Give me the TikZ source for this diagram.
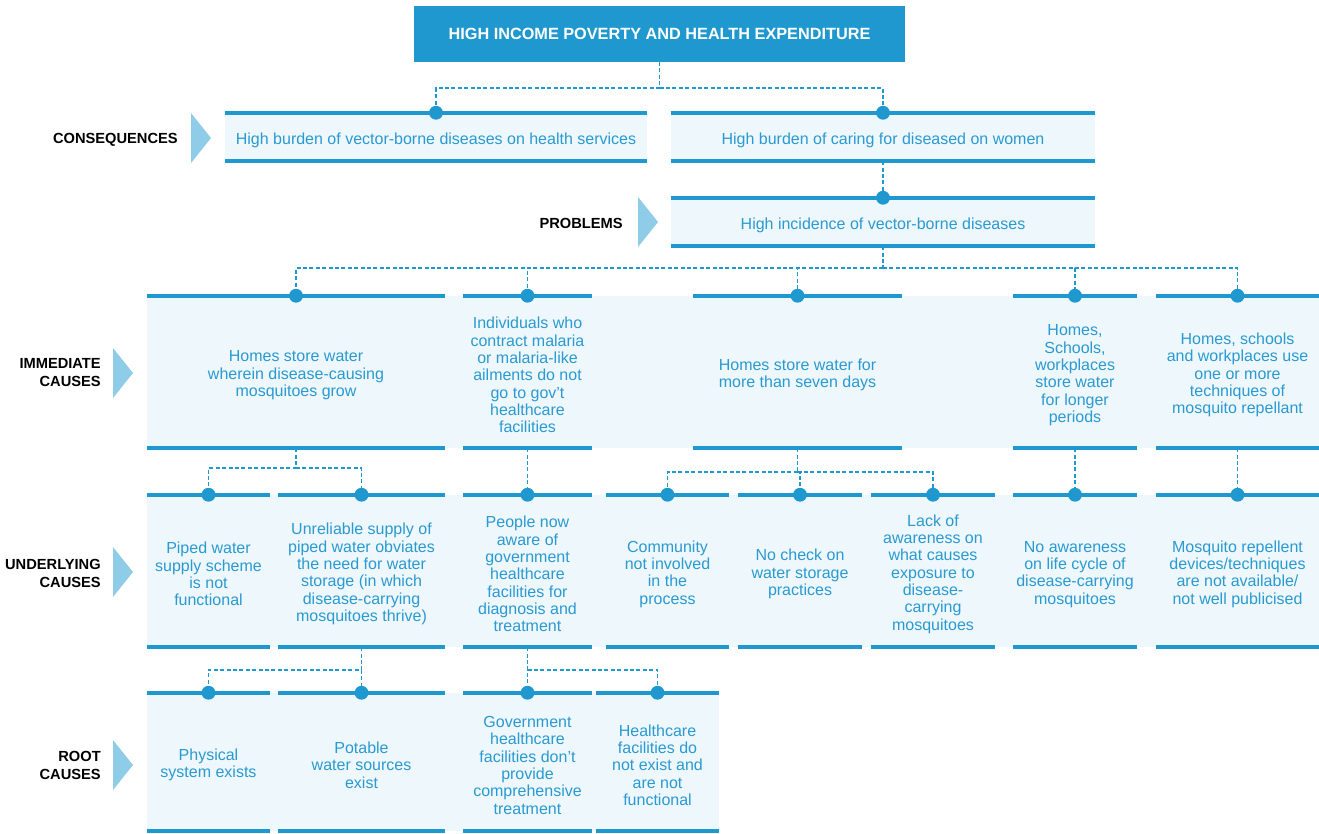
\documentclass[tikz,border=0pt]{standalone}
\usepackage{fontspec}
\setmainfont{Liberation Sans}
\usepackage{tikz}
\usetikzlibrary{positioning}

\definecolor{deepblue}{HTML}{1E98CF}
\definecolor{textblue}{HTML}{2A9AD2}
\definecolor{paleblue}{HTML}{EEF7FB}
\definecolor{arrowblue}{HTML}{8FCCE7}

\begin{document}
\begin{tikzpicture}[
    x=0.75pt, y=-0.75pt,
    every node/.style={inner sep=0pt},
    cell/.style={align=flush center, text=textblue, font=\fontsize{12}{13}\selectfont,
                 execute at begin node={\rule{0pt}{13.2pt}}},
    conrow/.style={cell, minimum height=36pt, fill=paleblue, text width=#1},
    immrow/.style={cell, minimum height=114pt, text width=#1},
    undrow/.style={cell, minimum height=114pt, text width=#1},
    rootrow/.style={cell, minimum height=103.5pt, text width=#1},
    level/.style={anchor=east, align=right, font=\bfseries\fontsize{11}{13.5}\selectfont},
    rule/.style={deepblue, line width=3pt},
    link/.style={deepblue, line width=1.3pt, dash pattern=on 3pt off 1.8pt},
  ]
  \useasboundingbox (0,0) rectangle (1319,833);

  % Bands behind the rows
  \fill[paleblue] (147,296) rectangle (1319,448);
  \fill[paleblue] (147,495) rectangle (1319,647);
  \fill[paleblue] (147,693) rectangle (719,831);

  % Level markers
  \fill[arrowblue] (191,113) -- (211,138) -- (191,163) -- cycle;
  \fill[arrowblue] (638,197) -- (658,222) -- (638,247) -- cycle;
  \fill[arrowblue] (113,348) -- (133,373) -- (113,398) -- cycle;
  \fill[arrowblue] (113,547) -- (133,572) -- (113,597) -- cycle;
  \fill[arrowblue] (113,740) -- (133,765) -- (113,790) -- cycle;

  \node[level] (lcons) at (178,139.5) {CONSEQUENCES};
  \node[level] (lprob) at (623,223)   {PROBLEMS};
  \node[level] (limm)  at (101,373)   {IMMEDIATE\\CAUSES};
  \node[level] (lund)  at (101,573)   {UNDERLYING\\CAUSES};
  \node[level] (lroot) at (101,765)   {ROOT\\CAUSES};

  % Title
  \node[fill=deepblue, text=white, minimum width=368.25pt, minimum height=42pt,
        font=\bfseries\fontsize{12.2}{14}\selectfont] (title) at (659.5,33.5)
        {HIGH INCOME POVERTY AND HEALTH EXPENDITURE};

  % Consequences and problem
  \node[conrow=316.5pt] (cons1) at (436,137) {High burden of vector-borne diseases on health services};
  \node[conrow=318pt]   (cons2) at (883,137) {High burden of caring for diseased on women};
  \node[conrow=318pt]   (prob)  at (883,222) {High incidence of vector-borne diseases};

  % Immediate causes
  \node[immrow=223.5pt]  (imm1) at (296,372)    {Homes store water\\wherein disease-causing\\mosquitoes grow};
  \node[immrow=96pt]     (imm2) at (527.5,372)  {Individuals who\\contract malaria\\or malaria-like\\ailments do not\\go to gov’t\\healthcare\\facilities};
  \node[immrow=156.75pt] (imm3) at (797.5,372)  {Homes store water for\\more than seven days};
  \node[immrow=93pt]     (imm4) at (1075,372)   {Homes,\\Schools,\\workplaces\\store water\\for longer\\periods};
  \node[immrow=122.25pt] (imm5) at (1237.5,372) {Homes, schools\\and workplaces use\\one or more\\techniques of\\mosquito repellant};

  % Underlying causes
  \node[undrow=92.25pt]  (und1) at (208.5,571)  {Piped water\\supply scheme\\is not\\functional};
  \node[undrow=125.25pt] (und2) at (361.5,571)  {Unreliable supply of\\piped water obviates\\the need for water\\storage (in which\\disease-carrying\\mosquitoes thrive)};
  \node[undrow=96pt]     (und3) at (527.5,571)  {People now\\aware of\\government\\healthcare\\facilities for\\diagnosis and\\treatment};
  \node[undrow=92.25pt]  (und4) at (667.5,571)  {Community\\not involved\\in the\\process};
  \node[undrow=93pt]     (und5) at (800,571)    {No check on\\water storage\\practices};
  \node[undrow=93pt]     (und6) at (933,571)    {Lack of\\awareness on\\what causes\\exposure to\\disease-\\carrying\\mosquitoes};
  \node[undrow=93pt]     (und7) at (1075,571)   {No awareness\\on life cycle of\\disease-carrying\\mosquitoes};
  \node[undrow=122.25pt] (und8) at (1237.5,571) {Mosquito repellent\\devices/techniques\\are not available/\\not well publicised};

  % Root causes
  \node[rootrow=92.25pt]  (root1) at (208.5,762) {Physical\\system exists};
  \node[rootrow=125.25pt] (root2) at (361.5,762) {Potable\\water sources\\exist};
  \node[rootrow=96pt]     (root3) at (527.5,762) {Government\\healthcare\\facilities don’t\\provide\\comprehensive\\treatment};
  \node[rootrow=92.25pt]  (root4) at (657.5,762) {Healthcare\\facilities do\\not exist and\\are not\\functional};

  % Top and bottom rules of every box
  \foreach \n in {cons1,cons2,prob,imm1,imm2,imm3,imm4,imm5,und1,und2,und3,und4,und5,und6,und7,und8,root1,root2,root3,root4}
    \draw[rule] (\n.north west) -- (\n.north east) (\n.south west) -- (\n.south east);

  % Dashed links
  \coordinate (j0) at (659.5,88);
  \coordinate (j1) at (883,268);
  \coordinate (j2) at (296,468);
  \coordinate (j3) at (797.5,472);
  \coordinate (j4) at (361.5,670);
  \coordinate (j5) at (527.5,670);

  \draw[link] (title.south) -- (j0) -| (cons1.north);
  \draw[link] (j0) -| (cons2.north);
  \draw[link] (cons2.south) -- (prob.north);
  \draw[link] (prob.south) -- (j1);
  \foreach \n in {imm1,imm2,imm3,imm4,imm5}
    \draw[link] (j1) -| (\n.north);
  \draw[link] (imm1.south) -- (j2) -| (und1.north);
  \draw[link] (j2) -| (und2.north);
  \draw[link] (imm2.south) -- (und3.north);
  \draw[link] (imm3.south) -- (j3);
  \foreach \n in {und4,und5,und6}
    \draw[link] (j3) -| (\n.north);
  \draw[link] (imm4.south) -- (und7.north);
  \draw[link] (imm5.south) -- (und8.north);
  \draw[link] (und2.south) -- (j4) -| (root1.north);
  \draw[link] (j4) -| (root2.north);
  \draw[link] (und3.south) -- (j5) -| (root3.north);
  \draw[link] (j5) -| (root4.north);

  % Dots on the boxes
  \foreach \n in {cons1,cons2,prob,imm1,imm2,imm3,imm4,imm5,und1,und2,und3,und4,und5,und6,und7,und8,root1,root2,root3,root4}
    \fill[deepblue] (\n.north) circle (5.2pt);

\end{tikzpicture}
\end{document}
